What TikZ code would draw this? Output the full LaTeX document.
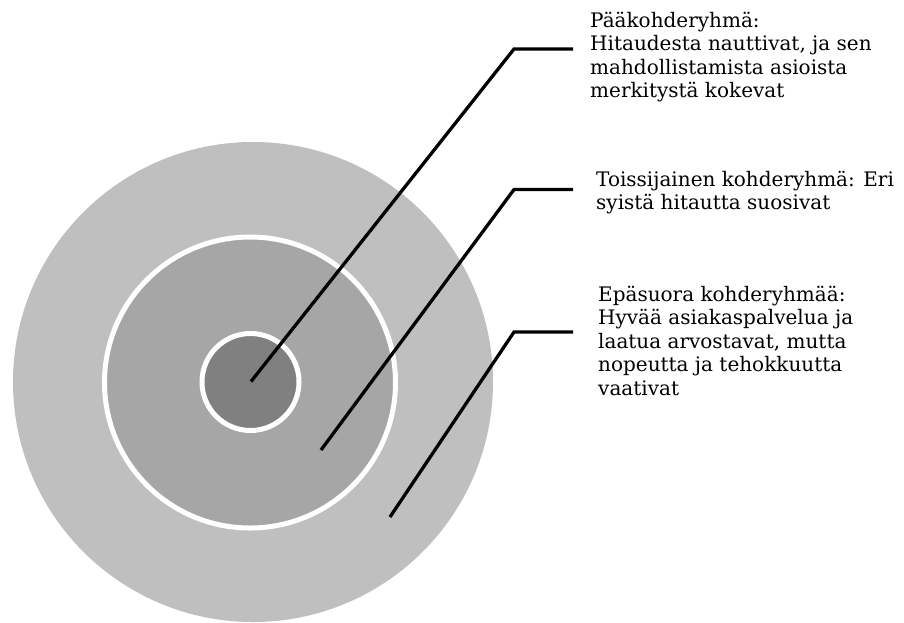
\documentclass[tikz,border=0pt]{standalone}
\usepackage{fontspec}
\setmainfont{DejaVu Serif}
\begin{document}
\begin{tikzpicture}[x=1pt,y=-1pt,
  ring/.style={circle, inner sep=0pt, outer sep=0pt},
  leader/.style={line width=3.3pt, black},
  label/.style={anchor=base west, inner sep=0pt, align=left,
    font=\fontsize{20}{23.4}\selectfont}]
\useasboundingbox (0,0) rectangle (904,622);

% concentric target rings
\node[ring, fill={rgb,255:red,191;green,191;blue,191}, minimum size=480pt] (outer) at (253,382) {};
\node[ring, fill={rgb,255:red,166;green,166;blue,166}, draw=white, line width=5pt, minimum size=291pt] (middle) at (250,382.5) {};
\node[ring, fill={rgb,255:red,128;green,128;blue,128}, draw=white, line width=5pt, minimum size=97pt] (inner) at (250.5,382) {};

% leader line points
\coordinate (s1) at (251,381.5);
\coordinate (k1) at (514,49);
\coordinate (e1) at (573,49);
\coordinate (s2) at (321,450);
\coordinate (k2) at (514,189.5);
\coordinate (e2) at (573,189.5);
\coordinate (s3) at (390,517);
\coordinate (k3) at (514,332);
\coordinate (e3) at (573,332);

% labels (placed by the baseline of their last line)
\node[label] (t1) at (590,97.5) {Pääkohderyhmä:\\Hitaudesta nauttivat, ja sen\\mahdollistamista asioista\\merkitystä kokevat};
\node[label] (t2) at (596,209.4) {Toissijainen kohderyhmä: Eri\\syistä hitautta suosivat};
\node[label] (t3) at (598,395.1) {Epäsuora kohderyhmää:\\Hyvää asiakaspalvelua ja\\laatua arvostavat, mutta\\nopeutta ja tehokkuutta\\vaativat};

% leaders
\draw[leader] (s1) -- (k1) -- (e1);
\draw[leader] (s2) -- (k2) -- (e2);
\draw[leader] (s3) -- (k3) -- (e3);
\end{tikzpicture}
\end{document}
